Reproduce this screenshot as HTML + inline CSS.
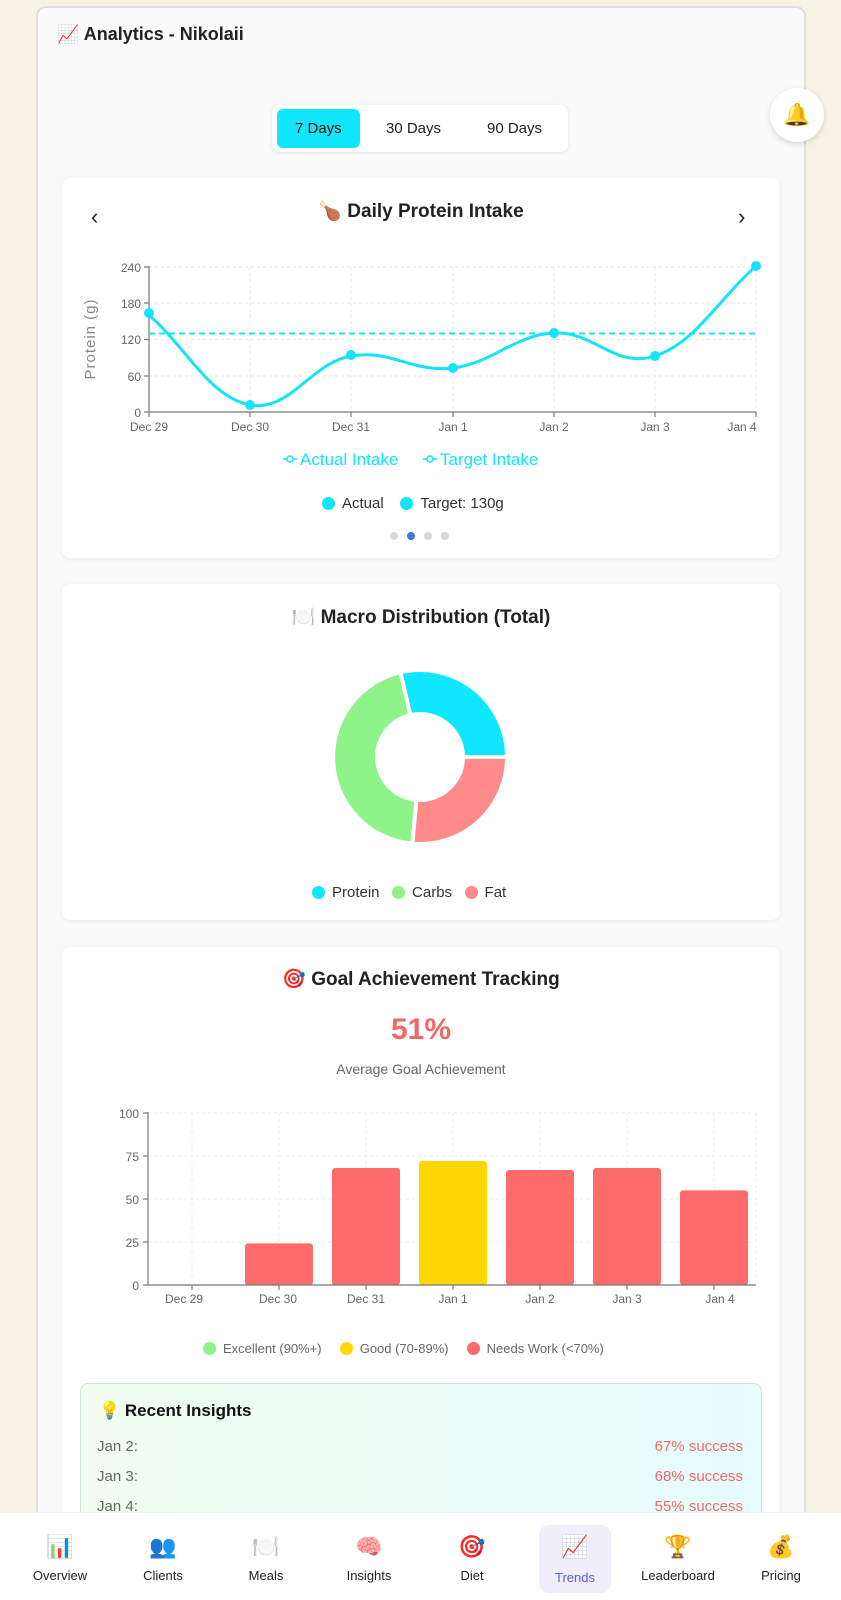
<!DOCTYPE html>
<html style="width:841px;height:1600px;overflow:hidden"><head><meta charset="utf-8"><style>
*{margin:0;padding:0;box-sizing:border-box}
body{width:841px;height:1600px;background:#f6f3e5;font-family:"Liberation Sans","Noto Sans CJK SC",sans-serif;position:relative;overflow:hidden;color:#222}
.abs{position:absolute}
.wrap{position:absolute;left:36px;top:6px;width:770px;height:1594px;background:#fafafa;border:2px solid #dedede;border-bottom:none;border-radius:10px 10px 0 0}
.card{position:absolute;background:#fff;border-radius:8px;box-shadow:0 1px 4px rgba(0,0,0,0.08)}
.t{position:absolute;white-space:nowrap}
.ctr{transform:translateX(-50%)}
.dot{display:inline-block;width:13px;height:13px;border-radius:50%;vertical-align:-2px;margin-right:7px}
.nav{position:absolute;top:1534px;width:100px;text-align:center;transform:translateX(-50%)}
.nav .i{font-size:22px;height:32px}
.nav .l{font-size:13px;color:#222;margin-top:2px}
</style></head><body>
<div class="wrap"></div>
<div class="t" style="left:57px;top:24px;font-size:18px;font-weight:bold;color:#222">📈 Analytics - Nikolaii</div>

<div class="abs" style="left:272px;top:105px;width:296px;height:47px;background:#fff;border-radius:8px;box-shadow:0 1px 4px rgba(0,0,0,0.1)"></div>
<div class="abs" style="left:277px;top:109px;width:83px;height:39px;background:#12e6fc;border-radius:6px"></div>
<div class="t" style="left:295px;top:120px;font-size:15px;color:#111">7 Days</div>
<div class="t" style="left:386px;top:120px;font-size:15px;color:#222">30 Days</div>
<div class="t" style="left:487px;top:120px;font-size:15px;color:#222">90 Days</div>
<div class="abs" style="left:770px;top:88px;width:54px;height:54px;background:#fff;border-radius:50%;box-shadow:0 2px 6px rgba(0,0,0,0.15);text-align:center;line-height:54px;font-size:22px">🔔</div>

<div class="card" style="left:62px;top:178px;width:718px;height:380px"></div>
<div class="t ctr" style="left:421px;top:199px;font-size:19px;font-weight:bold">🍗 Daily Protein Intake</div>
<div class="t" style="left:91px;top:204px;font-size:22px;color:#222">‹</div>
<div class="t" style="left:738px;top:204px;font-size:22px;color:#222">›</div>
<svg class="abs" style="left:0;top:0" width="841" height="600">
<g stroke="#e6e6e6" stroke-dasharray="3,3" stroke-width="1">
<line x1="149" y1="267" x2="756" y2="267"/><line x1="149" y1="303" x2="756" y2="303"/><line x1="149" y1="339.5" x2="756" y2="339.5"/><line x1="149" y1="376" x2="756" y2="376"/>
<line x1="250" y1="267" x2="250" y2="412"/><line x1="351" y1="267" x2="351" y2="412"/><line x1="453" y1="267" x2="453" y2="412"/><line x1="554" y1="267" x2="554" y2="412"/><line x1="655" y1="267" x2="655" y2="412"/><line x1="756" y1="267" x2="756" y2="412"/>
</g>
<g stroke="#777" stroke-width="1.2">
<line x1="149" y1="266" x2="149" y2="412"/><line x1="149" y1="412" x2="756" y2="412"/>
<line x1="144" y1="267" x2="149" y2="267"/><line x1="144" y1="303" x2="149" y2="303"/><line x1="144" y1="339.5" x2="149" y2="339.5"/><line x1="144" y1="376" x2="149" y2="376"/><line x1="144" y1="412" x2="149" y2="412"/>
<line x1="149" y1="412" x2="149" y2="417"/><line x1="250" y1="412" x2="250" y2="417"/><line x1="351" y1="412" x2="351" y2="417"/><line x1="453" y1="412" x2="453" y2="417"/><line x1="554" y1="412" x2="554" y2="417"/><line x1="655" y1="412" x2="655" y2="417"/><line x1="756" y1="412" x2="756" y2="417"/>
</g>
<g font-size="12" fill="#666" text-anchor="end">
<text x="141" y="272">240</text><text x="141" y="308">180</text><text x="141" y="344">120</text><text x="141" y="381">60</text><text x="141" y="417">0</text>
</g>
<g font-size="12" fill="#666" text-anchor="middle">
<text x="149" y="431">Dec 29</text><text x="250" y="431">Dec 30</text><text x="351" y="431">Dec 31</text><text x="453" y="431">Jan 1</text><text x="554" y="431">Jan 2</text><text x="655" y="431">Jan 3</text><text x="742" y="431">Jan 4</text>
</g>
<text x="95" y="339" font-size="15" fill="#888" text-anchor="middle" transform="rotate(-90 95 339)" letter-spacing="1">Protein (g)</text>
<line x1="149" y1="333.5" x2="756" y2="333.5" stroke="#14e4fa" stroke-width="2" stroke-dasharray="6,4"/>
<path d="M149,315 C189,351 210,397 250,405 C290,412 311,363 351,356 C391,349 413,373 453,368 C493,363 514,335 554,333 C594,331 615,369 655,356 C695,343 716,302 756,266" fill="none" stroke="#14e4fa" stroke-width="3"/>
<g fill="#14e4fa"><circle cx="149" cy="313" r="5"/><circle cx="250" cy="405" r="5"/><circle cx="351" cy="355" r="5"/><circle cx="453" cy="368" r="5"/><circle cx="554" cy="333" r="5"/><circle cx="655" cy="356" r="5"/><circle cx="756" cy="266" r="5"/></g>
<g stroke="#14e4fa" stroke-width="1.5" fill="#fff"><line x1="283" y1="459" x2="297" y2="459"/><circle cx="290" cy="459" r="3"/><line x1="423" y1="459" x2="437" y2="459"/><circle cx="430" cy="459" r="3"/></g>
<g font-size="17" fill="#14e4fa"><text x="300" y="465">Actual Intake</text><text x="440" y="465">Target Intake</text></g>
</svg>
<div class="t" style="left:322px;top:495px;font-size:15px;color:#333"><span class="dot" style="background:#14e4fa"></span>Actual&nbsp;&nbsp;&nbsp;&nbsp;<span class="dot" style="background:#14e4fa"></span>Target: 130g</div>
<div class="abs" style="left:390px;top:532px;width:8px;height:8px;border-radius:50%;background:#d8d8de"></div>
<div class="abs" style="left:407px;top:532px;width:8px;height:8px;border-radius:50%;background:#3b7be0"></div>
<div class="abs" style="left:424px;top:532px;width:8px;height:8px;border-radius:50%;background:#d8d8de"></div>
<div class="abs" style="left:441px;top:532px;width:8px;height:8px;border-radius:50%;background:#d8d8de"></div>

<div class="card" style="left:62px;top:584px;width:718px;height:336px"></div>
<div class="t ctr" style="left:421px;top:605px;font-size:19px;font-weight:bold">🍽️ Macro Distribution (Total)</div>
<svg class="abs" style="left:0;top:0" width="841" height="920">
<g stroke="#fff" stroke-width="4">
<path d="M400.4,672.3 A87,87 0 0 1 507,757 L463,757 A43,43 0 0 0 410.3,715.1 Z" fill="#0fe6ff"/>
<path d="M507,757 A87,87 0 0 1 412.4,843.7 L416.3,799.8 A43,43 0 0 0 463,757 Z" fill="#ff8a8a"/>
<path d="M412.4,843.7 A87,87 0 0 1 400.4,672.3 L410.3,715.1 A43,43 0 0 0 416.3,799.8 Z" fill="#8ef48a"/>
</g>
</svg>
<div class="t" style="left:312px;top:884px;font-size:15px;color:#333"><span class="dot" style="background:#0fe6ff"></span>Protein&nbsp;&nbsp;&nbsp;<span class="dot" style="background:#8ef48a"></span>Carbs&nbsp;&nbsp;&nbsp;<span class="dot" style="background:#ff8a8a"></span>Fat</div>

<div class="card" style="left:62px;top:947px;width:718px;height:653px;border-radius:8px 8px 0 0"></div>
<div class="t ctr" style="left:421px;top:967px;font-size:19px;font-weight:bold">🎯 Goal Achievement Tracking</div>
<div class="t ctr" style="left:421px;top:1013px;font-size:30px;font-weight:bold;color:#f26868">51%</div>
<div class="t ctr" style="left:421px;top:1061px;font-size:14px;color:#666">Average Goal Achievement</div>
<svg class="abs" style="left:0;top:0" width="841" height="1400">
<g stroke="#ececec" stroke-dasharray="3,3">
<line x1="148" y1="1113" x2="756" y2="1113"/><line x1="148" y1="1156" x2="756" y2="1156"/><line x1="148" y1="1199" x2="756" y2="1199"/><line x1="148" y1="1242" x2="756" y2="1242"/>
<line x1="192" y1="1113" x2="192" y2="1285"/><line x1="279" y1="1113" x2="279" y2="1285"/><line x1="366" y1="1113" x2="366" y2="1285"/><line x1="453" y1="1113" x2="453" y2="1285"/><line x1="540" y1="1113" x2="540" y2="1285"/><line x1="627" y1="1113" x2="627" y2="1285"/><line x1="714" y1="1113" x2="714" y2="1285"/><line x1="756" y1="1113" x2="756" y2="1285"/>
</g>
<g fill="#ff6b6b">
<rect x="245" y="1243.4" width="68" height="41.6" rx="3"/>
<rect x="332" y="1168" width="68" height="117" rx="3"/>
<rect x="506" y="1170" width="68" height="115" rx="3"/>
<rect x="593" y="1168" width="68" height="117" rx="3"/>
<rect x="680" y="1190.4" width="68" height="94.6" rx="3"/>
</g>
<rect x="419" y="1161" width="68" height="124" rx="3" fill="#ffd700"/>
<g stroke="#777" stroke-width="1.2">
<line x1="148" y1="1112" x2="148" y2="1285"/><line x1="148" y1="1285" x2="756" y2="1285"/>
<line x1="143" y1="1113" x2="148" y2="1113"/><line x1="143" y1="1156" x2="148" y2="1156"/><line x1="143" y1="1199" x2="148" y2="1199"/><line x1="143" y1="1242" x2="148" y2="1242"/><line x1="143" y1="1285" x2="148" y2="1285"/>
<line x1="192" y1="1285" x2="192" y2="1290"/><line x1="279" y1="1285" x2="279" y2="1290"/><line x1="366" y1="1285" x2="366" y2="1290"/><line x1="453" y1="1285" x2="453" y2="1290"/><line x1="540" y1="1285" x2="540" y2="1290"/><line x1="627" y1="1285" x2="627" y2="1290"/><line x1="714" y1="1285" x2="714" y2="1290"/>
</g>
<g font-size="12" fill="#666" text-anchor="middle">
<text x="139" y="1118" text-anchor="end">100</text><text x="139" y="1161" text-anchor="end">75</text><text x="139" y="1204" text-anchor="end">50</text><text x="139" y="1247" text-anchor="end">25</text><text x="139" y="1290" text-anchor="end">0</text>
<text x="184" y="1303">Dec 29</text><text x="278" y="1303">Dec 30</text><text x="366" y="1303">Dec 31</text><text x="453" y="1303">Jan 1</text><text x="540" y="1303">Jan 2</text><text x="627" y="1303">Jan 3</text><text x="720" y="1303">Jan 4</text>
</g>
</svg>
<div class="t" style="left:203px;top:1341px;font-size:13px;color:#666"><span class="dot" style="background:#8ef48a"></span>Excellent (90%+)&nbsp;&nbsp;&nbsp;&nbsp;&nbsp;<span class="dot" style="background:#ffd700"></span>Good (70-89%)&nbsp;&nbsp;&nbsp;&nbsp;&nbsp;<span class="dot" style="background:#ff6b6b"></span>Needs Work (&lt;70%)</div>

<div class="abs" style="left:80px;top:1383px;width:682px;height:200px;border:1px solid #cfe3dd;border-radius:8px;background:linear-gradient(90deg,#f0fdf0,#e6fcfd)"></div>
<div class="t" style="left:99px;top:1401px;font-size:17px;font-weight:bold;color:#111">💡 Recent Insights</div>
<div class="t" style="left:97px;top:1438px;font-size:15px;color:#666">Jan 2:</div>
<div class="t" style="left:97px;top:1468px;font-size:15px;color:#666">Jan 3:</div>
<div class="t" style="left:97px;top:1498px;font-size:15px;color:#666">Jan 4:</div>
<div class="t" style="right:98px;top:1438px;font-size:15px;color:#f26868">67% success</div>
<div class="t" style="right:98px;top:1468px;font-size:15px;color:#f26868">68% success</div>
<div class="t" style="right:98px;top:1498px;font-size:15px;color:#f26868">55% success</div>

<div class="abs" style="left:0;top:1512px;width:841px;height:88px;background:#fff;border-top:1px solid #eee"></div>
<div class="abs" style="left:539px;top:1525px;width:72px;height:68px;background:#efeefa;border-radius:10px"></div>
<div class="nav" style="left:60px"><div class="i">📊</div><div class="l">Overview</div></div>
<div class="nav" style="left:163px"><div class="i">👥</div><div class="l">Clients</div></div>
<div class="nav" style="left:266px"><div class="i">🍽️</div><div class="l">Meals</div></div>
<div class="nav" style="left:369px"><div class="i">🧠</div><div class="l">Insights</div></div>
<div class="nav" style="left:472px"><div class="i">🎯</div><div class="l">Diet</div></div>
<div class="nav" style="left:575px"><div class="i">📈</div><div class="l" style="color:#5a5fd6;margin-top:4px">Trends</div></div>
<div class="nav" style="left:678px"><div class="i">🏆</div><div class="l">Leaderboard</div></div>
<div class="nav" style="left:781px"><div class="i">💰</div><div class="l">Pricing</div></div>
</body></html>
